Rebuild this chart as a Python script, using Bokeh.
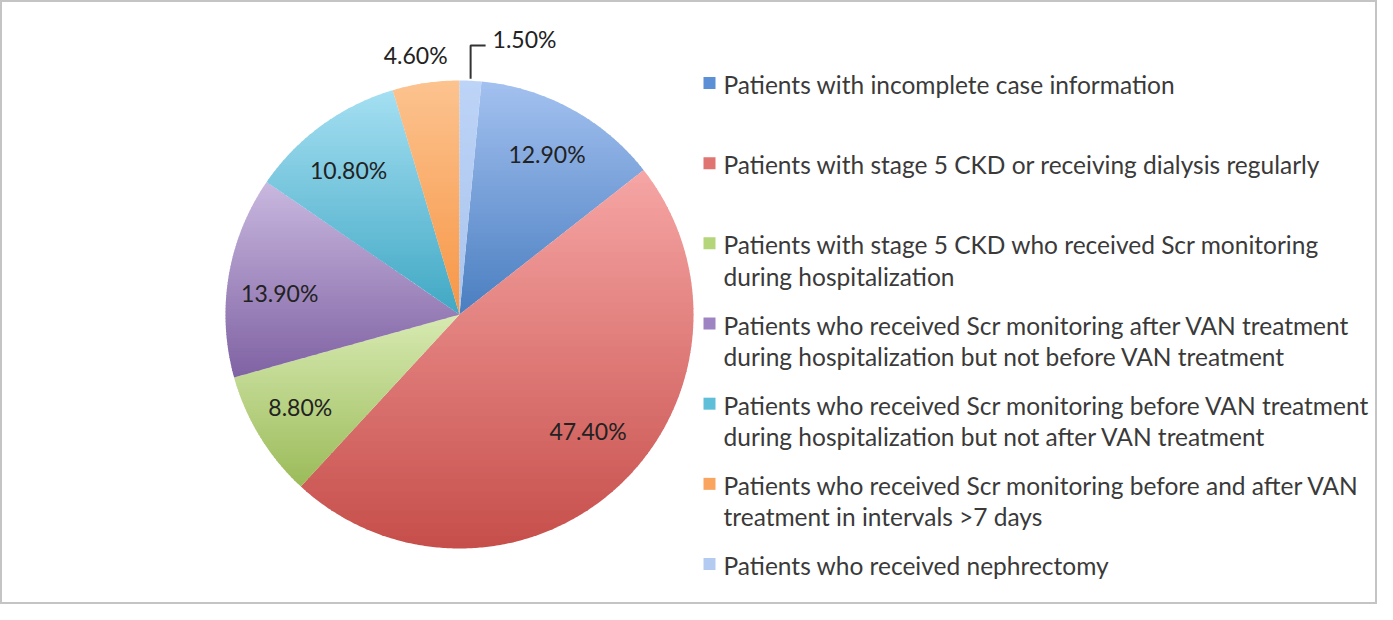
import numpy as np
from bokeh.plotting import figure
from bokeh.models import ColumnDataSource, Range1d
from bokeh.embed import file_html
from bokeh.resources import INLINE
from bokeh.core.properties import value

# ---------------- data ----------------
categories = [
    "Patients with incomplete case information",
    "Patients with stage 5 CKD or receiving dialysis regularly",
    "Patients with stage 5 CKD who received Scr monitoring\nduring hospitalization",
    "Patients who received Scr monitoring after VAN treatment\nduring hospitalization but not before VAN treatment",
    "Patients who received Scr monitoring before VAN treatment\nduring hospitalization but not after VAN treatment",
    "Patients who received Scr monitoring before and after VAN\ntreatment in intervals >7 days",
    "Patients who received nephrectomy",
]
percent = [12.9, 47.4, 8.8, 13.9, 10.8, 4.6, 1.5]
pct_labels = [f"{v:.2f}%" for v in percent]

# slice colours: gradient top -> bottom
top_colors = ["#A3C1F0", "#F6A6A5", "#D7EAB2", "#C9B8DF", "#A5DFF2", "#FCC38F", "#BDD4F7"]
bottom_colors = ["#4A7EC0", "#C64E4A", "#9BBB59", "#7F62A3", "#40A8C4", "#F79646", "#A9C3EC"]
legend_colors = ["#5B8FD6", "#E07470", "#B4D57A", "#9E84C2", "#5FBFD9", "#F9A45F", "#B3CBF1"]

# ---------------- layout ----------------
W, H = 1377, 604
CX, CY, R = 459, 290, 234
FIRST_ANGLE = 84.6          # degrees, start of first slice, slices run clockwise
FONT = "Lato"
FS_LABEL = "23px"
FS_LEGEND = "24.5px"
label_r = [0.78, 0.74, 0.786, 0.774, 0.778, 1.124, None]
label_nudge = [0.0, 5.2, -1.4, 2.5, 1.5, 1.3, 0.0]


def hex2rgb(h):
    h = h.lstrip("#")
    return np.array([int(h[i:i + 2], 16) for i in (0, 2, 4)], dtype=float)


def rgb2hex(c):
    c = np.clip(np.round(c), 0, 255).astype(int)
    return "#%02x%02x%02x" % tuple(c)


def clip_band(pts, lo, hi):
    def clip(poly, keep, inter):
        out = []
        n = len(poly)
        for i in range(n):
            a = poly[i]
            b = poly[(i + 1) % n]
            ka, kb = keep(a), keep(b)
            if ka:
                out.append(a)
            if ka != kb:
                out.append(inter(a, b))
        return out

    def ix(a, b, yv):
        t = (yv - a[1]) / (b[1] - a[1])
        return (a[0] + t * (b[0] - a[0]), yv)

    poly = clip(pts, lambda p: p[1] >= lo, lambda a, b: ix(a, b, lo))
    if len(poly) < 3:
        return []
    poly = clip(poly, lambda p: p[1] <= hi, lambda a, b: ix(a, b, hi))
    return poly if len(poly) >= 3 else []


p = figure(width=W, height=H, output_backend="svg", toolbar_location=None,
           x_range=Range1d(0, W), y_range=Range1d(0, H), min_border=0)
p.axis.visible = False
p.grid.visible = False
p.background_fill_color = "white"
p.border_fill_color = "white"
p.outline_line_color = "#c4c4c4"
p.outline_line_width = 3

total = sum(percent)
spans = [360.0 * v / total for v in percent]
starts = []
a = FIRST_ANGLE
for s in spans:
    starts.append(a)
    a -= s

xs, ys, fills = [], [], []
for i, (a0, sp) in enumerate(zip(starts, spans)):
    n = max(10, int(sp * 2))
    th = np.radians(np.linspace(a0, a0 - sp, n))
    px = np.concatenate([[CX], CX + R * np.cos(th)])
    py = np.concatenate([[CY], CY + R * np.sin(th)])
    pts = list(zip(px, py))
    ymin, ymax = py.min(), py.max()
    nb = 60
    ct, cb = hex2rgb(top_colors[i]), hex2rgb(bottom_colors[i])
    edges = np.linspace(ymin, ymax, nb + 1)
    for k in range(nb):
        lo, hi = edges[k], edges[k + 1]
        poly = clip_band(pts, lo, hi + 0.8)
        if not poly:
            continue
        t = ((lo + hi) / 2 - ymin) / (ymax - ymin)
        col = cb + (ct - cb) * t
        xs.append([q[0] for q in poly])
        ys.append([q[1] for q in poly])
        fills.append(rgb2hex(col))

p.patches(xs="xs", ys="ys", fill_color="fc", line_color=None,
          source=ColumnDataSource(dict(xs=xs, ys=ys, fc=fills)))

# ---------------- data labels ----------------
lx, ly, lt = [], [], []
for i, (a0, sp) in enumerate(zip(starts, spans)):
    mid = a0 - sp / 2
    if label_r[i] is None:
        continue
    ang = np.radians(mid + label_nudge[i])
    lx.append(CX + label_r[i] * R * np.cos(ang))
    ly.append(CY + label_r[i] * R * np.sin(ang))
    lt.append(pct_labels[i])
p.text(x="x", y="y", text="t", source=ColumnDataSource(dict(x=lx, y=ly, t=lt)),
       text_align="center", text_baseline="middle", text_font=value(FONT),
       text_font_size=FS_LABEL, text_color="#222222")

# leader label for last (small) slice
mid_last = np.radians(starts[-1] - spans[-1] / 2)
ax = CX + (R + 2) * np.cos(mid_last)
ay = CY + (R + 2) * np.sin(mid_last)
top_y = CY + R + 35
p.line(x=[ax, ax, ax + 15], y=[ay, top_y, top_y], line_color="#333333", line_width=2)
p.text(x=[ax + 22], y=[top_y + 7], text=[pct_labels[-1]], text_align="left",
       text_baseline="middle", text_font=value(FONT), text_font_size=FS_LABEL,
       text_color="#222222")

# ---------------- legend ----------------
LEG_X = 709
LEG_Y0 = 520
LEG_STEP = 80.17
LINE_H = 31.5
mx, my, tx, ty, tt = [], [], [], [], []
for i, cat in enumerate(categories):
    y0 = LEG_Y0 - i * LEG_STEP
    mx.append(LEG_X)
    my.append(y0 + 1.5)
    for j, line in enumerate(cat.split("\n")):
        tx.append(LEG_X + 14)
        ty.append(y0 - j * LINE_H)
        tt.append(line)
p.scatter(x=mx, y=my, marker="square", size=12, fill_color=legend_colors,
          line_color=None)
p.text(x="x", y="y", text="t", source=ColumnDataSource(dict(x=tx, y=ty, t=tt)),
       text_align="left", text_baseline="middle", text_font=value(FONT),
       text_font_size=FS_LEGEND, text_color="#3a3a3a")

open("out.html", "w").write(file_html(p, INLINE))
